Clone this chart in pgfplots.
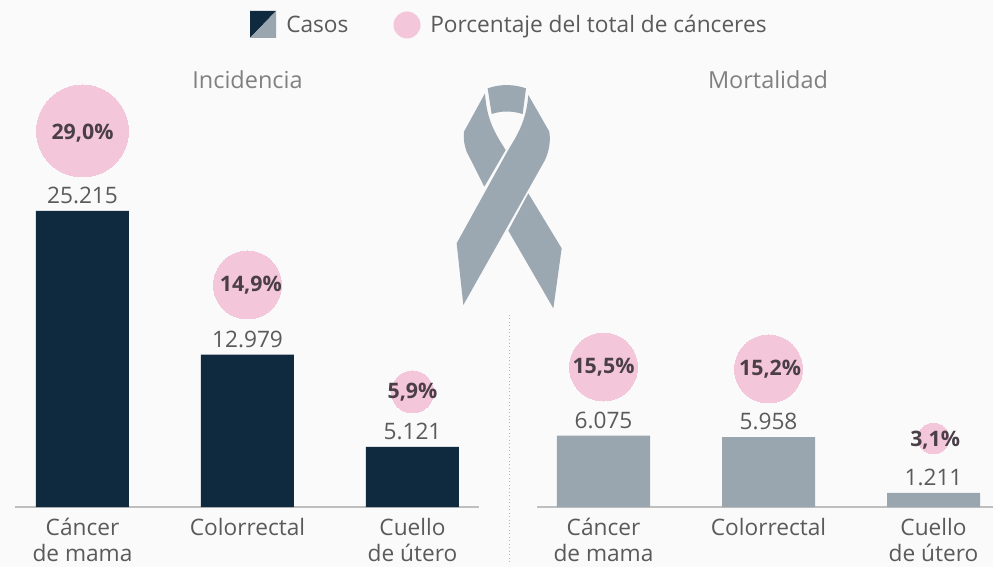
\documentclass[border=0pt]{standalone}
\usepackage{pgfplots}
\pgfplotsset{compat=1.18}
\usepackage{fontspec}
\setmainfont{Open Sans}
\definecolor{bgc}{HTML}{FAFAFA}
\definecolor{navy}{HTML}{0F2A3F}
\definecolor{greybar}{HTML}{9AA6AF}
\definecolor{pinkb}{HTML}{F4C6D9}
\definecolor{txt}{HTML}{5A5A5A}
\definecolor{ttl}{HTML}{808080}
\definecolor{dtxt}{HTML}{4A3F48}
\definecolor{rib}{HTML}{9BA7B1}
\pgfplotstableread{
x y lab
0 25215 25.215
1 12979 12.979
2 5121 5.121
}\incbars
\pgfplotstableread{
x y lab
0 6075 6.075
1 5958 5.958
2 1211 1.211
}\morbars
\pgfplotsset{
  panelaxis/.style={
    scale only axis, height=380.25pt,
    ymin=0, ymax=43185,
    axis x line=bottom, axis y line=none,
    axis line style={draw=black!25, line width=0.8pt, -},
    xtick={0,1,2}, major tick length=0pt,
    xticklabel style={align=center, font=\fontsize{17}{19.5}\selectfont, text=txt, yshift=-4pt},
    xticklabels={{Cáncer\\de mama},Colorrectal,{Cuello\\de útero}},
    clip=false,
    typeset ticklabels with strut,
    bar width=69.75pt,
  },
  bubble/.style={
    only marks, mark=*, mark size=#1, mark options={fill=pinkb, draw=pinkb, line width=0pt},
  },
  pctlabels/.style={
    only marks, mark=none,
    point meta=explicit symbolic,
    nodes near coords,
    nodes near coords align={center},
    every node near coord/.append style={font=\fontsize{16}{18}\selectfont\bfseries, text=dtxt, inner sep=0pt, anchor=center},
  },
  barlabels/.style={
    nodes near coords,
    point meta=explicit symbolic,
    every node near coord/.append style={font=\fontsize{17}{19}\selectfont, text=txt, inner sep=0pt, yshift=5pt, anchor=south},
  },
}
\begin{document}
\begin{tikzpicture}[x=0.75pt,y=-0.75pt]
\useasboundingbox (0,0) rectangle (993,567);
\fill[bgc] (0,0) rectangle (993,567);
% legend
\fill[navy] (250,11) -- (276,11) -- (250,38) -- cycle;
\fill[greybar] (276,11) -- (276,38) -- (250,38) -- cycle;
\node[anchor=base west,inner sep=0pt,font=\fontsize{17}{19}\selectfont,text=txt] at (286,33) {Casos};
\fill[pinkb] (407,25) circle (13.5);
\node[anchor=base west,inner sep=0pt,font=\fontsize{17}{19}\selectfont,text=txt] at (430,33) {Porcentaje del total de cánceres};
% titles
\node[font=\fontsize{17.6}{18}\selectfont,text=ttl] at (247.5,80) {Incidencia};
\node[font=\fontsize{17.6}{18}\selectfont,text=ttl] at (768,80) {Mortalidad};
% divider
\draw[black!30,line width=0.6pt,dotted] (509,315) -- (509,562);
% ribbon
\begin{scope}[shift={(440,70)},x=0.25pt,y=-0.25pt]
\fill[rib] (265,75) -- (328,185) .. controls (332,215) and (328,240) .. (315,270) -- (70,705) -- (50,520) -- (203,243) .. controls (228,200) and (258,160) .. cycle;
\fill[rib] (135,70) -- (72,185) .. controls (70,210) and (73,225) .. (80,245) -- (133,350) -- (197,240) .. controls (165,190) and (140,150) .. cycle;
\fill[rib] (143,55) .. controls (180,42) and (220,42) .. (258,55) -- (248,132) .. controls (215,122) and (185,122) .. (155,132) -- cycle;
\fill[rib] (265,370) -- (365,535) -- (340,715) -- (205,482) -- cycle;
\end{scope}
% panels: baseline at y=507 px
\begin{axis}[panelaxis, at={(15.5*0.75pt,-507*0.75pt)}, anchor=south west,
  xmin=-0.406, xmax=2.403, x=123.75pt]
\addplot[ybar, fill=navy, draw=none, barlabels] table[x=x,y=y,meta=lab] {\incbars};
\addplot[bubble=34.5] coordinates {(0,32030)};
\addplot[bubble=25.5] coordinates {(1,18910)};
\addplot[bubble=15.75] coordinates {(2,9800)};
\addplot[pctlabels] coordinates {(0,31860)[{29,0\%}] (1.02,18910)[{14,9\%}] (2,9790)[{5,9\%}]};
\end{axis}
\begin{axis}[panelaxis, at={(537*0.75pt,-507*0.75pt)}, anchor=south west,
  xmin=-0.403, xmax=2.36, x=123.75pt]
\addplot[ybar, fill=greybar, draw=none, barlabels] table[x=x,y=y,meta=lab] {\morbars};
\addplot[bubble=25.5] coordinates {(0,11925)};
\addplot[bubble=25.5] coordinates {(1,11755)};
\addplot[bubble=11.5] coordinates {(2,5840)};
\addplot[pctlabels] coordinates {(0,11925)[{15,5\%}] (1.01,11755)[{15,2\%}] (2.01,5700)[{3,1\%}]};
\end{axis}
\end{tikzpicture}
\end{document}
